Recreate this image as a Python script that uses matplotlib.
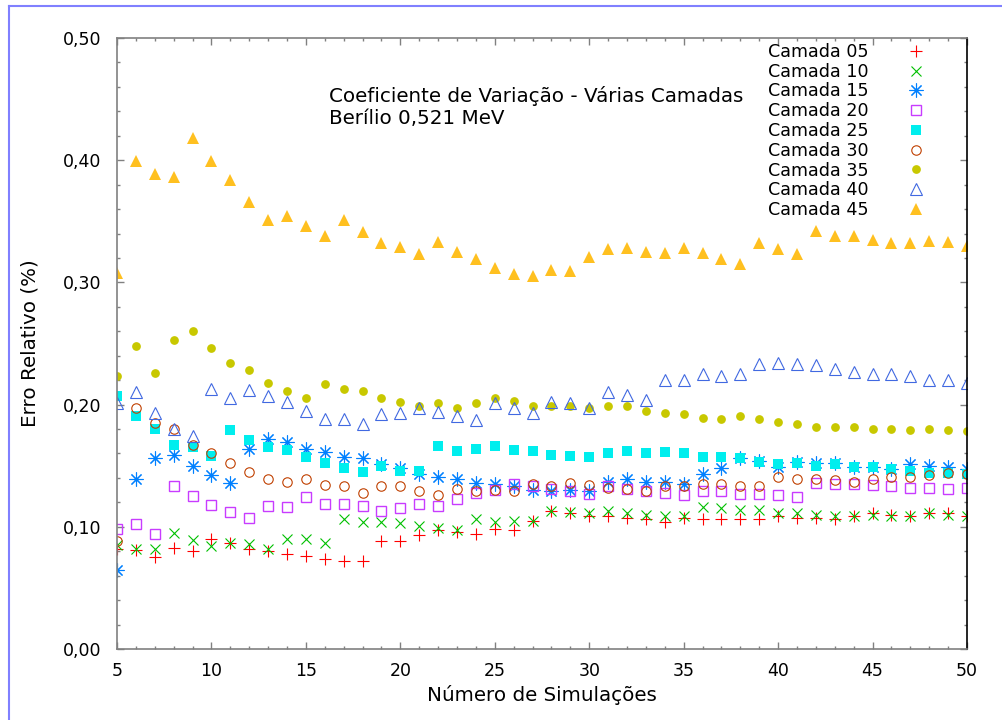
import matplotlib
matplotlib.use('Agg')
import matplotlib.pyplot as plt
from matplotlib.ticker import MultipleLocator, FuncFormatter
from matplotlib.lines import Line2D

# numero de simulacoes
sims = list(range(5, 51))

c05 = [0.082, 0.081, 0.075, 0.083, 0.080, 0.090, 0.087, 0.082, 0.080, 0.078,
       0.076, 0.074, 0.072, 0.072, 0.088, 0.088, 0.093, 0.097, 0.096, 0.094,
       0.098, 0.097, 0.105, 0.113, 0.111, 0.109, 0.109, 0.107, 0.106, 0.104,
       0.107, 0.106, 0.106, 0.106, 0.106, 0.109, 0.107, 0.107, 0.106, 0.109,
       0.111, 0.110, 0.109, 0.111, 0.111, 0.109]
c10 = [0.085, 0.082, 0.082, 0.095, 0.089, 0.084, 0.087, 0.086, 0.082, 0.090,
       0.090, 0.087, 0.106, 0.104, 0.104, 0.103, 0.101, 0.099, 0.097, 0.106,
       0.104, 0.105, 0.105, 0.113, 0.112, 0.111, 0.113, 0.111, 0.110, 0.109,
       0.109, 0.116, 0.115, 0.114, 0.114, 0.111, 0.111, 0.110, 0.109, 0.109,
       0.110, 0.109, 0.109, 0.111, 0.110, 0.109]
c15 = [0.065, 0.139, 0.156, 0.159, 0.150, 0.142, 0.136, 0.164, 0.172, 0.169,
       0.164, 0.161, 0.157, 0.156, 0.151, 0.148, 0.143, 0.141, 0.139, 0.136,
       0.135, 0.133, 0.130, 0.129, 0.130, 0.129, 0.137, 0.139, 0.137, 0.137,
       0.135, 0.143, 0.148, 0.156, 0.154, 0.149, 0.153, 0.152, 0.152, 0.149,
       0.149, 0.147, 0.151, 0.150, 0.149, 0.147]
c20 = [0.098, 0.102, 0.094, 0.133, 0.125, 0.118, 0.112, 0.107, 0.117, 0.116,
       0.124, 0.119, 0.119, 0.117, 0.113, 0.115, 0.119, 0.117, 0.123, 0.128,
       0.130, 0.135, 0.133, 0.131, 0.129, 0.127, 0.133, 0.131, 0.129, 0.128,
       0.126, 0.129, 0.129, 0.127, 0.127, 0.126, 0.124, 0.136, 0.135, 0.135,
       0.134, 0.133, 0.132, 0.132, 0.131, 0.132]
c25 = [0.207, 0.191, 0.180, 0.167, 0.165, 0.158, 0.179, 0.171, 0.165, 0.163,
       0.157, 0.152, 0.148, 0.145, 0.150, 0.146, 0.146, 0.166, 0.162, 0.164,
       0.166, 0.163, 0.162, 0.159, 0.158, 0.157, 0.160, 0.162, 0.160, 0.161,
       0.160, 0.157, 0.157, 0.156, 0.153, 0.151, 0.152, 0.150, 0.151, 0.149,
       0.149, 0.147, 0.146, 0.144, 0.144, 0.143]
c30 = [0.088, 0.197, 0.185, 0.180, 0.167, 0.160, 0.152, 0.145, 0.139, 0.137,
       0.139, 0.134, 0.133, 0.128, 0.133, 0.133, 0.129, 0.126, 0.131, 0.129,
       0.130, 0.129, 0.135, 0.133, 0.136, 0.134, 0.132, 0.131, 0.129, 0.133,
       0.133, 0.135, 0.135, 0.133, 0.133, 0.141, 0.139, 0.139, 0.138, 0.137,
       0.139, 0.141, 0.141, 0.142, 0.144, 0.143]
c35 = [0.223, 0.248, 0.226, 0.253, 0.260, 0.246, 0.234, 0.228, 0.218, 0.211,
       0.205, 0.217, 0.213, 0.211, 0.205, 0.202, 0.199, 0.201, 0.197, 0.201,
       0.205, 0.203, 0.199, 0.199, 0.199, 0.197, 0.199, 0.199, 0.195, 0.193,
       0.192, 0.189, 0.188, 0.191, 0.188, 0.186, 0.184, 0.182, 0.182, 0.182,
       0.180, 0.180, 0.179, 0.180, 0.179, 0.178]
c40 = [0.201, 0.210, 0.193, 0.180, 0.174, 0.213, 0.205, 0.212, 0.207, 0.202,
       0.195, 0.188, 0.188, 0.184, 0.192, 0.193, 0.197, 0.194, 0.191, 0.187,
       0.201, 0.197, 0.193, 0.202, 0.201, 0.197, 0.210, 0.208, 0.204, 0.220,
       0.220, 0.225, 0.223, 0.225, 0.233, 0.234, 0.233, 0.232, 0.229, 0.227,
       0.225, 0.225, 0.223, 0.220, 0.220, 0.218]
c45 = [0.308, 0.399, 0.389, 0.386, 0.418, 0.399, 0.384, 0.366, 0.351, 0.354,
       0.346, 0.338, 0.351, 0.341, 0.332, 0.329, 0.323, 0.333, 0.325, 0.319,
       0.312, 0.307, 0.305, 0.310, 0.309, 0.321, 0.327, 0.328, 0.325, 0.324,
       0.328, 0.324, 0.319, 0.315, 0.332, 0.327, 0.323, 0.342, 0.338, 0.338,
       0.335, 0.332, 0.332, 0.334, 0.333, 0.330]

labels = ['Camada 05', 'Camada 10', 'Camada 15', 'Camada 20', 'Camada 25',
          'Camada 30', 'Camada 35', 'Camada 40', 'Camada 45']

fig = plt.figure(figsize=(10.03, 7.2), dpi=100)
ax = fig.add_axes([117/1003, 1 - 649/720, 850/1003, 611/720])

gray = '#808080'

ax.plot(sims, c05, ls='none', marker='+', ms=8.5, mew=0.8, color='#ff0000', label=labels[0])
ax.plot(sims, c10, ls='none', marker='x', ms=7.5, mew=0.8, color='#00c000', label=labels[1])
ax.plot(sims, c15, ls='none', marker=(8, 2, 0), ms=10, mew=0.8, color='#0080ff', label=labels[2])
ax.plot(sims, c20, ls='none', marker='s', ms=7.5, mew=1.0, mfc='none', color='#c83cff', label=labels[3])
ax.plot(sims, c25, ls='none', marker='s', ms=7.2, mew=0, color='#00eeee', label=labels[4])
ax.plot(sims, c30, ls='none', marker='o', ms=6.8, mew=0.8, mfc='none', color='#c04000', label=labels[5])
ax.plot(sims, c35, ls='none', marker='o', ms=6.3, mew=0, color='#c8c800', label=labels[6])
ax.plot(sims, c40, ls='none', marker='^', ms=9, mew=0.8, mfc='none', color='#4169e1', label=labels[7])
ax.plot(sims, c45, ls='none', marker='^', ms=9, mew=0, color='#ffc020', label=labels[8])

ax.set_xlim(5, 50)
ax.set_ylim(0, 0.5)
ax.xaxis.set_major_locator(MultipleLocator(5))
ax.xaxis.set_minor_locator(MultipleLocator(1))
ax.yaxis.set_major_locator(MultipleLocator(0.1))
ax.yaxis.set_minor_locator(MultipleLocator(0.02))
ax.yaxis.set_major_formatter(FuncFormatter(lambda v, p: f'{v:.2f}'.replace('.', ',')))

ax.tick_params(which='both', direction='in', top=True, right=True, color=gray,
               labelsize=12.5)
ax.tick_params(which='major', length=5, width=1)
ax.tick_params(which='minor', length=2.5, width=1)
ax.tick_params(axis='y', pad=11)
ax.tick_params(axis='x', pad=9)
for s in ['left', 'bottom', 'top']:
    ax.spines[s].set_color(gray)
    ax.spines[s].set_linewidth(1.2)
ax.spines['right'].set_color('black')
ax.spines['right'].set_linewidth(1.2)

ax.set_xlabel('Número de Simulações', fontsize=14.3, labelpad=4)
ax.set_ylabel('Erro Relativo (%)', fontsize=14.3, labelpad=17)

fig.text(329/1003, 1 - 96/720, 'Coeficiente de Variação - Várias Camadas',
         fontsize=14.3, ha='left', va='center')
fig.text(329/1003, 1 - 118/720, 'Berílio 0,521 MeV',
         fontsize=14.3, ha='left', va='center')

leg = ax.legend(loc='upper right', bbox_to_anchor=(925/1003, 1 - 43/720),
                bbox_transform=fig.transFigure, frameon=False, markerfirst=False,
                fontsize=12.6, handlelength=1.0, handletextpad=2.2,
                labelspacing=0.1, borderpad=0, borderaxespad=0)

# moldura azul (bordas esquerda e superior)
fig.add_artist(Line2D([9/1003, 9/1003], [0, 1 - 6/720], transform=fig.transFigure,
                      color='#8080ff', lw=1.5))
fig.add_artist(Line2D([9/1003, 1], [1 - 6/720, 1 - 6/720], transform=fig.transFigure,
                      color='#8080ff', lw=1.5))

fig.savefig('out.png', dpi=100)
